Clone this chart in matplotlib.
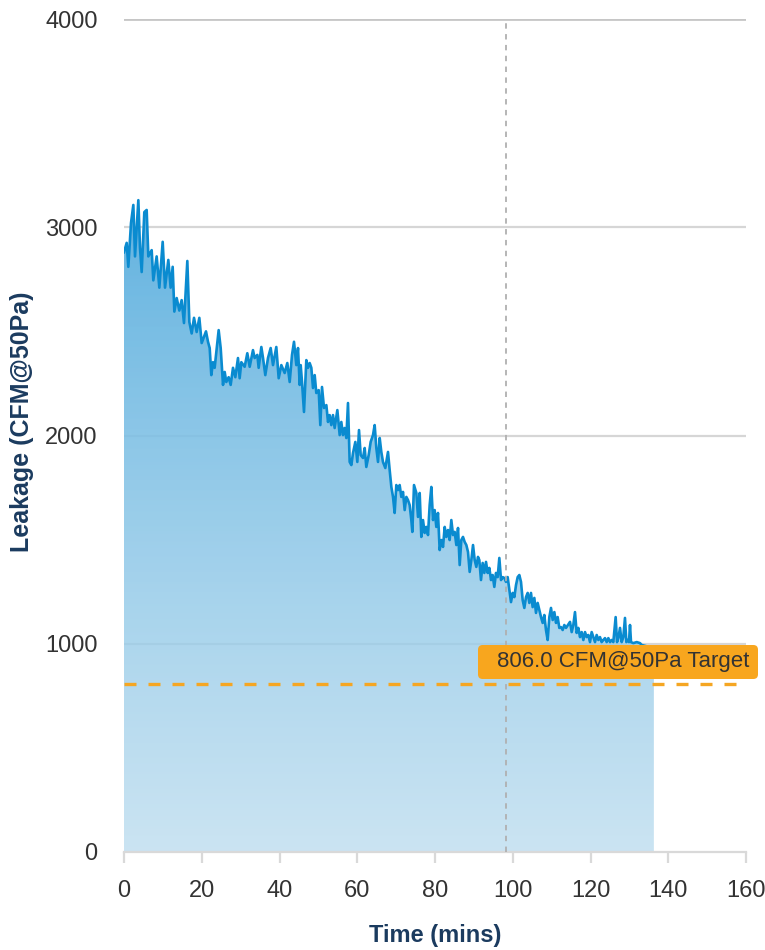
import matplotlib
matplotlib.use("Agg")
import matplotlib.pyplot as plt
import numpy as np
from matplotlib.patches import FancyBboxPatch
from matplotlib.colors import LinearSegmentedColormap

plt.rcParams['font.family'] = ['Liberation Sans', 'DejaVu Sans']

time_min = [0.00, 0.69, 1.11, 1.80, 2.40, 2.83, 3.69, 4.12, 4.55, 5.23, 5.83, 6.26, 7.12, 7.54,
            8.40, 9.09, 9.95, 10.55, 11.40, 12.00, 12.52, 12.95, 13.55, 14.23, 14.83, 15.43,
            16.29, 16.81, 17.41, 18.01, 18.69, 19.38, 19.98, 21.09, 21.61, 22.04, 22.46, 22.89,
            23.32, 23.75, 24.35, 24.87, 25.47, 25.90, 26.32, 26.92, 27.44, 28.04, 28.64, 29.32,
            29.75, 30.18, 31.04, 31.72, 32.33, 33.18, 33.61, 34.30, 34.64, 35.33, 35.76, 36.35,
            37.04, 37.73, 38.33, 39.18, 39.79, 40.47, 41.33, 42.01, 42.62, 43.22, 43.73, 44.33,
            44.76, 45.19, 45.45, 45.79, 46.30, 46.90, 47.33, 47.76, 48.19, 48.62, 49.05, 49.47,
            50.08, 50.50, 50.93, 51.45, 52.05, 52.48, 52.90, 53.33, 53.76, 54.19, 54.88, 55.48,
            55.90, 56.33, 56.76, 57.19, 57.62, 58.05, 58.48, 58.91, 59.51, 60.02, 60.45, 60.88,
            61.48, 61.91, 62.33, 62.94, 63.45, 64.05, 64.48, 64.91, 65.34, 65.77, 66.19, 66.62,
            67.22, 67.91, 68.34, 68.77, 69.20, 69.62, 70.05, 70.48, 70.91, 71.34, 71.77, 72.20,
            72.63, 73.05, 73.48, 73.91, 74.17, 74.60, 75.20, 75.63, 76.06, 76.48, 76.91, 77.34,
            77.77, 78.20, 78.63, 79.06, 79.49, 79.91, 80.34, 80.77, 81.20, 81.63, 82.06, 82.49,
            82.92, 83.34, 83.77, 84.20, 84.63, 85.06, 85.49, 85.92, 86.35, 86.77, 87.20, 87.63,
            88.06, 88.49, 88.92, 89.35, 89.78, 90.21, 90.63, 91.06, 91.40, 91.83, 92.26, 92.69,
            93.12, 93.55, 93.98, 94.41, 94.83, 95.26, 95.69, 96.12, 96.55, 96.98, 97.41, 97.83,
            98.26, 98.69, 99.12, 99.55, 99.98, 100.41, 100.84, 101.27, 101.69, 102.12, 102.55,
            102.98, 103.41, 103.84, 104.27, 104.69, 105.12, 105.55, 105.98, 106.41, 106.84,
            107.27, 107.70, 108.12, 108.55, 108.98, 109.41, 109.84, 110.27, 110.70, 111.13,
            111.55, 111.98, 112.41, 112.84, 113.27, 113.70, 114.73, 115.16, 115.58, 116.01,
            116.44, 116.87, 117.30, 117.73, 118.16, 118.59, 119.01, 119.44, 119.87, 120.30,
            120.73, 121.16, 121.59, 122.02, 122.44, 122.87, 123.30, 123.73, 124.16, 124.59,
            125.02, 125.44, 125.87, 126.47, 126.82, 127.16, 127.59, 128.02, 128.45, 128.87,
            129.22, 129.56, 129.90, 130.16, 130.42, 131.02, 131.88, 132.73, 133.16, 134.00,
            135.00, 136.30]

leakage_cfm = [2880, 2925, 2810, 3020, 3107, 2860, 3130, 2900, 2785, 3073, 3083, 2860, 2890, 2745,
               2860, 2710, 2930, 2710, 2843, 2710, 2810, 2595, 2660, 2600, 2650, 2540,
               2838, 2545, 2490, 2565, 2497, 2565, 2444, 2500, 2450, 2420, 2290, 2352,
               2325, 2400, 2506, 2420, 2243, 2305, 2257, 2280, 2243, 2325, 2280, 2372,
               2275, 2352, 2330, 2395, 2330, 2410, 2372, 2387, 2325, 2425, 2372, 2290,
               2372, 2420, 2338, 2425, 2275, 2338, 2300, 2348, 2257, 2387, 2450, 2338,
               2420, 2243, 2338, 2257, 2113, 2362, 2325, 2348, 2325, 2228, 2290, 2204,
               2218, 2050, 2233, 2132, 2146, 2065, 2098, 2050, 2098, 2036, 2122, 2002,
               2065, 2002, 2036, 1988, 2156, 1873, 1858, 1916, 1969, 1873, 2026, 1906,
               1892, 1940, 1849, 1906, 1969, 2002, 2050, 1940, 1873, 1988, 1921, 1873,
               1844, 1921, 1834, 1753, 1705, 1628, 1762, 1738, 1762, 1705, 1729, 1642,
               1705, 1690, 1666, 1594, 1537, 1762, 1724, 1609, 1724, 1513, 1594, 1532,
               1561, 1522, 1666, 1753, 1594, 1642, 1561, 1628, 1450, 1498, 1465, 1561,
               1513, 1546, 1498, 1594, 1522, 1537, 1474, 1556, 1378, 1498, 1513, 1489,
               1474, 1441, 1345, 1402, 1474, 1402, 1369, 1417, 1402, 1306, 1388, 1340,
               1393, 1340, 1364, 1306, 1330, 1273, 1340, 1320, 1412, 1306, 1320, 1316,
               1297, 1320, 1258, 1200, 1244, 1224, 1282, 1320, 1330, 1297, 1210,
               1172, 1224, 1244, 1196, 1244, 1176, 1220, 1148, 1196, 1162,
               1128, 1100, 1138, 1066, 1018, 1128, 1172, 1114, 1152, 1100,
               1128, 1076, 1080, 1066, 1090, 1076, 1105, 1056, 1090, 1152,
               1052, 1076, 1032, 1056, 1018, 1056, 1032, 1042, 1008, 1056,
               1032, 1008, 1042, 1018, 1032, 1008, 1018, 1027, 1008, 1027,
               1008, 1018, 1008, 1128, 1008, 1027, 1076, 1008, 1032, 1124,
               1008, 1018, 1008, 1090, 1008, 1003, 1008, 1003, 994, 990,
               985, 980]

target_cfm = 806.0
marker_time = 98.3
target_label = "806.0 CFM@50Pa Target"
x_ticks = [0, 20, 40, 60, 80, 100, 120, 140, 160]
y_ticks = [0, 1000, 2000, 3000, 4000]

t = np.array(time_min)
v = np.array(leakage_cfm, dtype=float)

fig = plt.figure(figsize=(7.65, 9.5), dpi=100)
ax = fig.add_axes([124/765, 98/950, 622/765, 833/950])
ax.set_xlim(0, 160)
ax.set_ylim(0, 4000)

# grid lines (beneath the semi-transparent fill)
for yv in y_ticks[1:-1]:
    ax.axhline(yv, color='#d6d6d6', lw=1.6, zorder=0.5)
ax.axhline(y_ticks[-1], color='#c6c6c6', lw=2.0, zorder=0.5)

# gradient fill under the line
poly = ax.fill_between(t, 0, v, color='none', lw=0, zorder=1)
cmap = LinearSegmentedColormap.from_list(
    'g', [(182/255, 218/255, 238/255, 0.72), (0.36, 0.69, 0.875, 0.97)])
grad = np.linspace(0, 1, 256).reshape(-1, 1)
img = ax.imshow(grad, cmap=cmap, origin='lower', aspect='auto',
                extent=[0, t.max(), 0, v.max()], zorder=1, interpolation='bicubic')
img.set_clip_path(poly.get_paths()[0], transform=ax.transData)
ax.set_xlim(0, 160)
ax.set_ylim(0, 4000)

ax.plot(t, v, color='#0a8bd0', lw=1.9, zorder=3, solid_joinstyle='round')

# vertical marker
ax.axvline(marker_time, color='#b0b0b0', lw=1.3, linestyle=(0, (3, 3)), zorder=4)

# target line
ax.plot([0, 160], [target_cfm, target_cfm], color='#f5a623', lw=2.4,
        linestyle=(0, (3.6, 3.6)), zorder=5, clip_on=False)

# label box
aspect = (833/4000) / (622/160)
x0 = (478 - 124) / (622/160)
x1 = (758 - 124) / (622/160)
y0 = (852 - 679) / (833/4000)
y1 = (852 - 645) / (833/4000)
box = FancyBboxPatch((x0, y0), x1 - x0, y1 - y0,
                     boxstyle='round,pad=0,rounding_size=1.2',
                     mutation_aspect=1/aspect, fc='#f8a61e', ec='none',
                     zorder=6, clip_on=False)
ax.add_patch(box)
ax.text((497 - 124) / (622/160), (y0 + y1) / 2, target_label, ha='left', va='center',
        fontsize=16, color='#333333', zorder=7, clip_on=False)

# axes styling
for s in ['left', 'right', 'top']:
    ax.spines[s].set_visible(False)
ax.spines['bottom'].set_color('#d9d9d9')
ax.spines['bottom'].set_linewidth(1.6)
ax.spines['bottom'].set_zorder(2)
ax.set_xticks(x_ticks)
ax.set_yticks(y_ticks)
ax.tick_params(axis='x', length=8, width=1.6, color='#d9d9d9', labelsize=17,
               labelcolor='#333333', pad=12)
ax.tick_params(axis='y', length=0, labelsize=17, labelcolor='#333333', pad=19)

ax.set_xlabel('Time (mins)', fontsize=17, fontweight='bold', color='#1b3b5f')
ax.set_ylabel('Leakage (CFM@50Pa)', fontsize=18, fontweight='bold', color='#1b3b5f')
ax.xaxis.set_label_coords((435 - 124) / 622, (852 - 924) / 833)
ax.yaxis.set_label_coords((34 - 124) / 622, (852 - 422) / 833)

fig.savefig('out.png', dpi=100)
